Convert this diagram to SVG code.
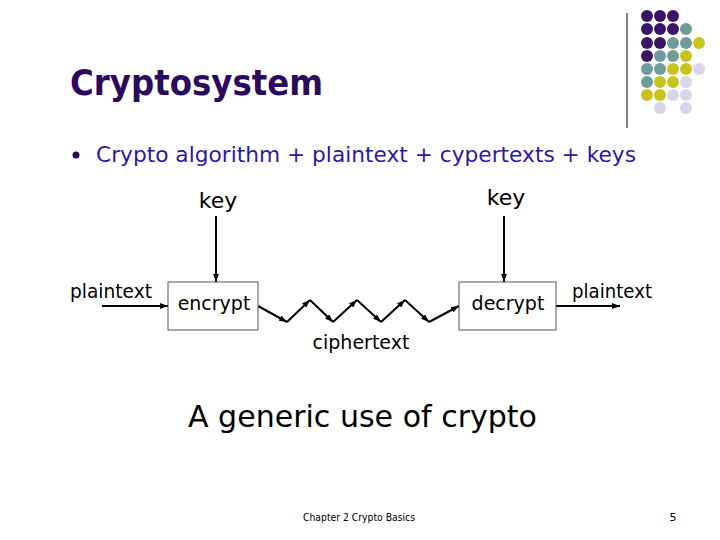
<svg xmlns="http://www.w3.org/2000/svg" width="720" height="540" viewBox="0 0 720 540">
<defs>
<marker id="ah" markerWidth="8" markerHeight="6" refX="8" refY="3" orient="auto" markerUnits="userSpaceOnUse">
<path d="M0,0 L8,3 L0,6 Z" fill="#000"/>
</marker>
<style>
.t{font-family:"DejaVu Sans","Liberation Sans",sans-serif;fill:#000}
.c{stroke:#000;stroke-width:2;fill:none;marker-end:url(#ah)}
.box{fill:#fff;stroke:#555;stroke-width:1}
.p{fill:#3A1566}.g{fill:#6E9C9A}.y{fill:#C8C21E}.l{fill:#D6D6E8}
</style>
</defs>
<rect width="720" height="540" fill="#fff"/>
<g id="decor">
<line x1="627" y1="13" x2="627" y2="128" stroke="#000" stroke-width="1"/>
<circle class="p" cx="647" cy="16" r="6"/><circle class="p" cx="660" cy="16" r="6"/><circle class="p" cx="673" cy="16" r="6"/>
<circle class="p" cx="647" cy="29" r="6"/><circle class="p" cx="660" cy="29" r="6"/><circle class="p" cx="673" cy="29" r="6"/><circle class="g" cx="686" cy="29" r="6"/>
<circle class="p" cx="647" cy="43" r="6"/><circle class="p" cx="660" cy="43" r="6"/><circle class="g" cx="673" cy="43" r="6"/><circle class="g" cx="686" cy="43" r="6"/><circle class="y" cx="699" cy="43" r="6"/>
<circle class="p" cx="647" cy="56" r="6"/><circle class="g" cx="660" cy="56" r="6"/><circle class="g" cx="673" cy="56" r="6"/><circle class="y" cx="686" cy="56" r="6"/>
<circle class="g" cx="647" cy="69" r="6"/><circle class="g" cx="660" cy="69" r="6"/><circle class="y" cx="673" cy="69" r="6"/><circle class="y" cx="686" cy="69" r="6"/><circle class="l" cx="699" cy="69" r="6"/>
<circle class="g" cx="647" cy="82" r="6"/><circle class="y" cx="660" cy="82" r="6"/><circle class="y" cx="673" cy="82" r="6"/><circle class="l" cx="686" cy="82" r="6"/>
<circle class="y" cx="647" cy="95" r="6"/><circle class="y" cx="660" cy="95" r="6"/><circle class="l" cx="673" cy="95" r="6"/><circle class="l" cx="686" cy="95" r="6"/>
<circle class="l" cx="660" cy="108" r="6"/><circle class="l" cx="686" cy="108" r="6"/>
</g>
<g id="title">
<text x="70" y="95" font-family="DejaVu Sans,Liberation Sans,sans-serif" font-weight="bold" font-size="35" fill="#2B0A5E" textLength="253" lengthAdjust="spacingAndGlyphs">Cryptosystem</text>
</g>
<g id="bullet">
<circle cx="76" cy="155" r="3.5" fill="#2B0A5E"/>
<text x="96" y="162" font-family="DejaVu Sans,Liberation Sans,sans-serif" font-size="21" fill="#2A1AA0" textLength="540" lengthAdjust="spacingAndGlyphs">Crypto algorithm + plaintext + cypertexts + keys</text>
</g>
<g id="connectors">
<line class="c" x1="216" y1="216" x2="216" y2="282"/>
<line class="c" x1="504" y1="216" x2="504" y2="282"/>
<line class="c" x1="102" y1="306" x2="168" y2="306"/>
<line class="c" x1="556" y1="306" x2="620" y2="306"/>
<line class="c" x1="258" y1="306" x2="287" y2="322"/>
<line class="c" x1="287" y1="322" x2="310" y2="300"/>
<line class="c" x1="310" y1="300" x2="333" y2="322"/>
<line class="c" x1="333" y1="322" x2="357" y2="300"/>
<line class="c" x1="357" y1="300" x2="381" y2="322"/>
<line class="c" x1="381" y1="322" x2="405" y2="300"/>
<line class="c" x1="405" y1="300" x2="429" y2="322"/>
<line class="c" x1="429" y1="322" x2="459" y2="306"/>
</g>
<g id="key1"><text class="t" x="218" y="208" font-size="22" text-anchor="middle">key</text></g>
<g id="key2"><text class="t" x="506" y="205" font-size="22" text-anchor="middle">key</text></g>
<g id="plaintext-in"><text class="t" x="70" y="298" font-size="19" textLength="82" lengthAdjust="spacingAndGlyphs">plaintext</text></g>
<g id="encrypt">
<rect class="box" x="168" y="282" width="90" height="48"/>
<text class="t" x="214" y="310" font-size="19" text-anchor="middle">encrypt</text>
</g>
<g id="decrypt">
<rect class="box" x="459" y="282" width="97" height="48"/>
<text class="t" x="508" y="310" font-size="19" text-anchor="middle">decrypt</text>
</g>
<g id="plaintext-out"><text class="t" x="572" y="298" font-size="19" textLength="80" lengthAdjust="spacingAndGlyphs">plaintext</text></g>
<g id="ciphertext"><text class="t" x="361" y="349" font-size="19" text-anchor="middle">ciphertext</text></g>
<g id="caption"><text class="t" x="188" y="427" font-size="30" textLength="349" lengthAdjust="spacingAndGlyphs">A generic use of crypto</text></g>
<g id="footer">
<text class="t" x="303" y="521" font-size="11" textLength="112" lengthAdjust="spacingAndGlyphs">Chapter 2 Crypto Basics</text>
<text class="t" x="673" y="521" font-size="11" text-anchor="middle">5</text>
</g>
</svg>
